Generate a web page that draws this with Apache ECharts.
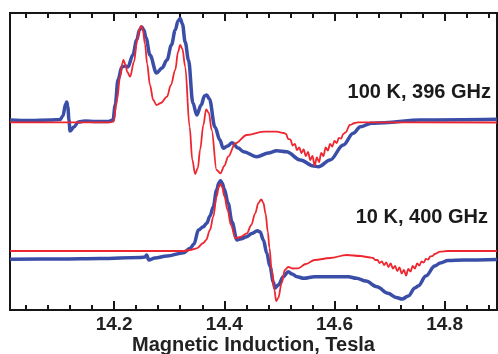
<!DOCTYPE html>
<html>
<head>
<meta charset="utf-8">
<script src="https://cdn.jsdelivr.net/npm/echarts@6/dist/echarts.min.js"></script>
<style>
  html, body { margin: 0; padding: 0; background: #fff; }
  #chart { width: 498px; height: 354px; }
</style>
</head>
<body>
<div id="chart"></div>
<script>
// field (Tesla), signal (arb. units, offset per trace)
const upperBlue = [
  [14.011, 190], [14.048, 189.5], [14.084, 190], [14.102, 190.5], [14.107, 194],
  [14.112, 206], [14.114, 208], [14.116, 203], [14.118, 190], [14.120, 179],
  [14.127, 183], [14.135, 188], [14.147, 189], [14.166, 188.5], [14.189, 188.5],
  [14.198, 190], [14.202, 205], [14.207, 230], [14.214, 243], [14.220, 244],
  [14.225, 243], [14.234, 255], [14.241, 270], [14.246, 280], [14.250, 283],
  [14.254, 280], [14.258, 272], [14.265, 255], [14.277, 237], [14.287, 242],
  [14.296, 250], [14.304, 265], [14.311, 280], [14.316, 289], [14.320, 291.5],
  [14.324, 286], [14.329, 268], [14.335, 250], [14.343, 207], [14.350, 195],
  [14.358, 205], [14.364, 214], [14.368, 215], [14.373, 211], [14.383, 183],
  [14.392, 170], [14.398, 161.7], [14.406, 164], [14.414, 167.3], [14.425, 162],
  [14.435, 158.3], [14.459, 153.3], [14.480, 157], [14.495, 159.3], [14.513, 158.3],
  [14.538, 150], [14.562, 144], [14.571, 143.3], [14.592, 150], [14.616, 165],
  [14.634, 176.7], [14.647, 183.3], [14.667, 186.7], [14.691, 187.3], [14.755, 190],
  [14.895, 190.7]
];

const upperRed = [
  [14.011, 187.7], [14.193, 187.7], [14.199, 188.3], [14.205, 210], [14.211, 233.3],
  [14.215, 247], [14.217, 250], [14.220, 246], [14.224, 238], [14.229, 233.3],
  [14.236, 248], [14.242, 270], [14.246, 281], [14.249, 284], [14.252, 280],
  [14.256, 266], [14.260, 246], [14.265, 225], [14.271, 210], [14.277, 205],
  [14.285, 207], [14.296, 213.3], [14.303, 225], [14.311, 240], [14.316, 258],
  [14.320, 265], [14.324, 261], [14.329, 243.3], [14.337, 183.3], [14.342, 150],
  [14.347, 136], [14.352, 142], [14.356, 160], [14.362, 185], [14.367, 200.7],
  [14.372, 197], [14.377, 180], [14.386, 140], [14.393, 136.7], [14.400, 144],
  [14.407, 153.3], [14.420, 166.7], [14.441, 175], [14.471, 178.3], [14.495, 178.3],
  [14.508, 177],
  [14.512, 176], [14.516, 171], [14.520, 170.5], [14.524, 164.5], [14.528, 166],
  [14.532, 160], [14.536, 162.5], [14.540, 157], [14.544, 160.5], [14.548, 154],
  [14.552, 158], [14.556, 150], [14.560, 154], [14.564, 144.5], [14.568, 152.5],
  [14.572, 148], [14.576, 157], [14.580, 154], [14.584, 162.5], [14.588, 159.5],
  [14.592, 166], [14.596, 163.5], [14.600, 169], [14.604, 167], [14.608, 172],
  [14.612, 171.5], [14.616, 176], [14.620, 177.5], [14.628, 185], [14.637, 187],
  [14.643, 187.7], [14.895, 187.5]
];

const lowerBlue = [
  [14.011, 50.7], [14.102, 51], [14.175, 51.5], [14.247, 52.5], [14.256, 53],
  [14.259, 55], [14.263, 50], [14.274, 52], [14.296, 54], [14.326, 57.3],
  [14.338, 61.7], [14.345, 66], [14.353, 80], [14.362, 83.3], [14.368, 86.7],
  [14.374, 94], [14.380, 103.3], [14.386, 120], [14.390, 127], [14.393, 129.3],
  [14.396, 127], [14.400, 121], [14.407, 106.7], [14.414, 88], [14.423, 70],
  [14.429, 71], [14.441, 73.3], [14.450, 76.5], [14.460, 79.3], [14.465, 78],
  [14.471, 70], [14.477, 57], [14.483, 43.3], [14.489, 28], [14.492, 21.7],
  [14.498, 25], [14.507, 33.3], [14.516, 38.3], [14.523, 36], [14.532, 33.3],
  [14.544, 31.7], [14.564, 33.3], [14.625, 33.3], [14.640, 31.7], [14.657, 29],
  [14.677, 23.3], [14.697, 16.7], [14.712, 12.5], [14.723, 11], [14.734, 14],
  [14.746, 22], [14.752, 24], [14.766, 34], [14.782, 44], [14.792, 47],
  [14.806, 49.5], [14.834, 50], [14.895, 50.5]
];

const lowerRed = [
  [14.011, 59], [14.326, 59], [14.338, 60], [14.350, 61.7], [14.362, 67],
  [14.367, 70], [14.374, 80], [14.380, 93.3], [14.386, 113.3], [14.390, 123],
  [14.393, 126], [14.396, 123], [14.400, 114], [14.406, 100], [14.412, 85],
  [14.420, 71.7], [14.429, 73], [14.441, 76.7], [14.449, 85], [14.456, 96.7],
  [14.462, 107], [14.467, 110.7], [14.471, 107], [14.475, 96], [14.479, 78],
  [14.482, 62], [14.486, 40], [14.491, 20], [14.494, 9], [14.498, 12],
  [14.504, 26.7], [14.510, 40], [14.516, 43], [14.525, 41.5], [14.534, 41.7],
  [14.548, 46], [14.564, 50], [14.592, 52], [14.622, 55], [14.647, 54],
  [14.665, 52.5],
  [14.670, 52], [14.674, 50], [14.678, 50], [14.682, 47], [14.686, 48.5],
  [14.690, 45], [14.694, 47.5], [14.698, 43], [14.702, 46.5], [14.706, 41.5],
  [14.710, 44], [14.714, 39], [14.718, 42.5], [14.722, 36.5], [14.726, 40],
  [14.730, 34.5], [14.734, 41], [14.738, 38.5], [14.742, 44], [14.746, 41.5],
  [14.750, 46.5], [14.754, 44.5], [14.758, 48.5], [14.762, 47.5], [14.766, 51],
  [14.770, 50.5], [14.774, 53.5], [14.778, 54], [14.782, 56], [14.792, 58.3],
  [14.805, 59], [14.895, 59]
];

const majorTicks = [14.2, 14.4, 14.6, 14.8];
const minorTicks = [14.04, 14.08, 14.12, 14.16, 14.24, 14.28, 14.32, 14.36,
  14.44, 14.48, 14.52, 14.56, 14.64, 14.68, 14.72, 14.76, 14.84, 14.88];

const labels = ["100 K, 396 GHz", "10 K, 400 GHz"];

const blue = "#3a4ea8";
const red = "#ee2630";
const ink = "#161616";

var chart = echarts.init(document.getElementById("chart"));

function xAxisOf(pos, ticks, len, withLabels) {
  return {
    type: "value",
    min: 14.011,
    max: 14.895,
    position: pos,
    axisLine: { show: false },
    splitLine: { show: false },
    axisTick: {
      show: true,
      inside: true,
      length: len,
      customValues: ticks,
      lineStyle: { color: ink, width: 2 }
    },
    axisLabel: withLabels
      ? {
          show: true,
          customValues: majorTicks,
          formatter: function (v) { return v.toFixed(1); },
          margin: 5,
          color: "#222",
          fontSize: 19,
          fontWeight: "bold",
          fontFamily: "Liberation Sans, Arial, sans-serif"
        }
      : { show: false }
  };
}

var bottomMain = xAxisOf("bottom", majorTicks, 9, true);
bottomMain.name = "Magnetic Induction, Tesla";
bottomMain.nameLocation = "middle";
bottomMain.nameGap = 25;
bottomMain.nameMoveOverlap = false;
bottomMain.nameTextStyle = {
  color: "#222",
  fontSize: 20,
  fontWeight: "bold",
  fontFamily: "Liberation Sans, Arial, sans-serif"
};

function trace(data, color, width) {
  return {
    type: "line",
    data: data,
    showSymbol: false,
    smooth: 0.35,
    smoothMonotone: "x",
    lineStyle: { color: color, width: width }
  };
}

var option = {
  animation: false,
  grid: {
    left: 10,
    right: 1,
    top: 13,
    bottom: 44,
    outerBoundsMode: "none",
    containLabel: false,
    show: true,
    borderColor: ink,
    borderWidth: 2,
    backgroundColor: "transparent"
  },
  xAxis: [
    bottomMain,
    xAxisOf("bottom", minorTicks, 5, false),
    xAxisOf("top", majorTicks, 8, false),
    xAxisOf("top", minorTicks, 5, false)
  ],
  yAxis: { type: "value", min: 0, max: 297, show: false },
  graphic: [
    {
      type: "text",
      right: 7,
      top: 82,
      style: {
        text: labels[0],
        fill: "#1a1a1a",
        font: "bold 20px 'Liberation Sans', Arial, sans-serif"
      }
    },
    {
      type: "text",
      right: 10,
      top: 207,
      style: {
        text: labels[1],
        fill: "#1a1a1a",
        font: "bold 20px 'Liberation Sans', Arial, sans-serif"
      }
    }
  ],
  series: [
    trace(upperBlue, blue, 3.5),
    trace(lowerBlue, blue, 3.5),
    trace(upperRed, red, 1.8),
    trace(lowerRed, red, 1.8)
  ]
};

chart.setOption(option);
</script>
</body>
</html>
